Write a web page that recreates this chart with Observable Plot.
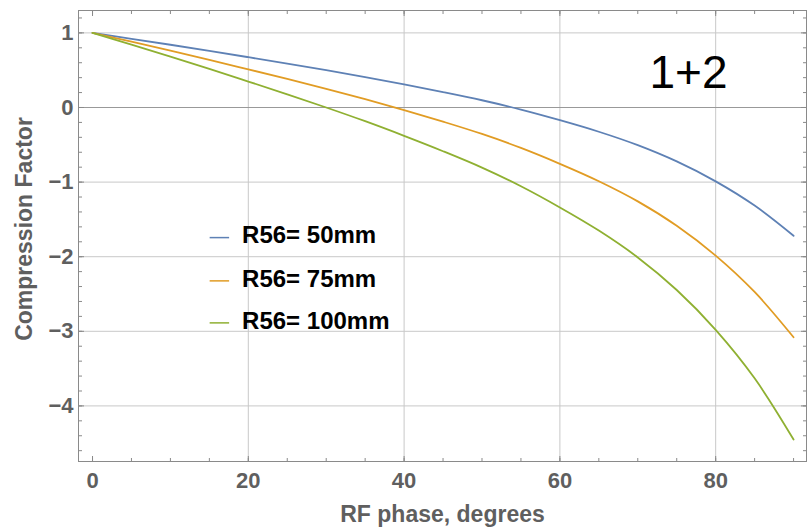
<!DOCTYPE html>
<html>
<head>
<meta charset="utf-8">
<script src="https://cdn.jsdelivr.net/npm/d3@7"></script>
<script src="https://cdn.jsdelivr.net/npm/@observablehq/plot@0.6"></script>
<style>
  body { margin: 0; background: #fff; }
  #chart svg { display: block; }
</style>
</head>
<body>
<div id="chart"></div>
<script>
// RF phase (degrees) at which the compression factor is sampled
const phase = [0, 5, 10, 15, 20, 25, 30, 35, 40, 45, 50, 55, 60, 65, 70, 75, 80, 85, 90];

// Compression factor for each R56 setting
const r56_50 = [1, 0.921, 0.841, 0.759, 0.674, 0.588, 0.50, 0.408, 0.31, 0.207, 0.097, -0.028, -0.17, -0.325, -0.505, -0.723, -0.99, -1.315, -1.72];
const r56_75 = [1, 0.882, 0.762, 0.639, 0.511, 0.382, 0.25, 0.112, -0.035, -0.19, -0.355, -0.542, -0.755, -0.988, -1.258, -1.585, -1.985, -2.473, -3.08];
const r56_100 = [1, 0.842, 0.682, 0.518, 0.348, 0.176, 0.0, -0.184, -0.38, -0.586, -0.806, -1.056, -1.34, -1.65, -2.01, -2.446, -2.98, -3.63, -4.45];

const seriesNames = ["R56= 50mm", "R56= 75mm", "R56= 100mm"];
const seriesColors = ["#5E81B5", "#E19C24", "#8FB032"];
const seriesValues = [r56_50, r56_75, r56_100];

const xTicks = [0, 20, 40, 60, 80];
const yTicks = [1, 0, -1, -2, -3, -4];
const xMinorTicks = d3.range(0, 95, 5);
const yMinorTicks = d3.range(-23, 7).map(i => i / 5);

// long table for the line mark
const rows = seriesNames.flatMap((name, s) =>
  phase.map((p, i) => ({ phase: p, value: seriesValues[s][i], series: name }))
);

// legend rows, placed inside the plot area
const legendRows = seriesNames.map((name, i) => ({ name, color: seriesColors[i], y: [-1.744, -2.324, -2.887][i] }));

const fmt = d => (d < 0 ? "\u2212" + Math.abs(d) : String(d));
const gray = "#8a8a8a";
const labelFill = "#5f5f5f";
const bare = { tickFormat: () => "", stroke: gray, label: null };

const chart = Plot.plot({
  width: 808,
  height: 530,
  marginLeft: 78,
  marginRight: 2,
  marginTop: 10,
  marginBottom: 69,
  style: { fontFamily: "'Liberation Sans', Arial, sans-serif", background: "#fff" },
  x: { domain: [-1.8, 91.66] },
  y: { domain: [-4.745, 1.30] },
  color: { domain: seriesNames, range: seriesColors },
  marks: [
    // grid
    Plot.gridX(xTicks.filter(d => d !== 0), { stroke: "#c8c8c8", strokeOpacity: 1 }),
    Plot.gridY(yTicks.filter(d => d !== 0), { stroke: "#c8c8c8", strokeOpacity: 1 }),
    Plot.ruleY([0], { stroke: "#999", strokeWidth: 1.2 }),

    // inward ticks on all four sides
    Plot.axisX(xMinorTicks, { anchor: "bottom", tickSize: -3, ...bare }),
    Plot.axisX(xTicks, { anchor: "bottom", tickSize: -5, ...bare }),
    Plot.axisX(xMinorTicks, { anchor: "top", tickSize: -3, ...bare }),
    Plot.axisX(xTicks, { anchor: "top", tickSize: -5, ...bare }),
    Plot.axisY(yMinorTicks, { anchor: "left", tickSize: -4, ...bare }),
    Plot.axisY(yTicks, { anchor: "left", tickSize: -6, ...bare }),
    Plot.axisY(yMinorTicks, { anchor: "right", tickSize: -4, ...bare }),
    Plot.axisY(yTicks, { anchor: "right", tickSize: -6, ...bare }),

    // tick labels
    Plot.axisX(xTicks, { anchor: "bottom", tickSize: 0, tickPadding: 11, tickFormat: fmt, fontSize: 22, fontWeight: "bold", fill: labelFill, label: null }),
    Plot.axisY(yTicks, { anchor: "left", tickSize: 0, tickPadding: 5, tickFormat: fmt, fontSize: 22, fontWeight: "bold", fill: labelFill, label: null }),

    Plot.frame({ stroke: gray }),

    // curves
    Plot.line(rows, { x: "phase", y: "value", stroke: "series", strokeWidth: 1.8, curve: "catmull-rom" }),

    // legend
    Plot.ruleY(legendRows, { y: "y", x1: 15.1, x2: 17.6, stroke: "color", strokeWidth: 1.5 }),
    Plot.text(legendRows, { y: "y", x: 19.2, text: "name", textAnchor: "start", dy: -2, fontSize: 24, fontWeight: "bold", fill: "#000" }),

    // annotation
    Plot.text(["1+2"], { frameAnchor: "top-left", dx: 571, dy: 77, lineAnchor: "bottom", textAnchor: "start", fontSize: 46, fill: "#000" }),

    // axis titles
    Plot.text(["RF phase, degrees"], { frameAnchor: "bottom", dy: 53, lineAnchor: "middle", textAnchor: "middle", fontSize: 23, fontWeight: "bold", fill: labelFill }),
    Plot.text(["Compression Factor"], { frameAnchor: "left", dx: -54, dy: -7, rotate: -90, lineAnchor: "middle", textAnchor: "middle", fontSize: 23, fontWeight: "bold", fill: labelFill })
  ]
});

document.getElementById("chart").appendChild(chart);
</script>
</body>
</html>
